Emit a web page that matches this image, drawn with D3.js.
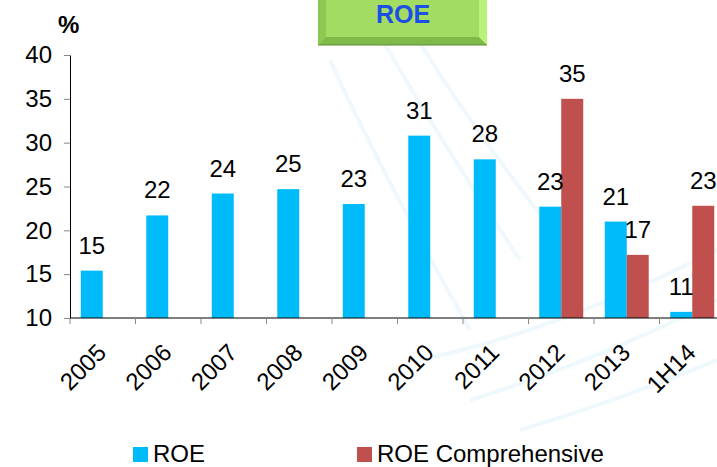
<!DOCTYPE html>
<html>
<head>
<meta charset="utf-8">
<script src="https://cdn.jsdelivr.net/npm/d3@7"></script>
<style>
  body { margin: 0; background: #fff; }
  svg { display: block; font-family: "Liberation Sans", Arial, sans-serif; }
</style>
</head>
<body>
<div id="chart"></div>
<script>
// data
const categories = ["2005", "2006", "2007", "2008", "2009", "2010", "2011", "2012", "2013", "1H14"];
const roe = [15.4, 21.7, 24.2, 24.7, 23.0, 30.8, 28.1, 22.7, 21.0, 10.7];
const roeComprehensive = [null, null, null, null, null, null, null, 35.0, 17.2, 22.8];
const yTicks = [10, 15, 20, 25, 30, 35, 40];
const seriesNames = ["ROE", "ROE Comprehensive"];
const colors = ["#00bbfa", "#c0504d"];

const W = 717, H = 467;
const svg = d3.select("#chart").append("svg")
  .attr("width", W)
  .attr("height", H);

// faint watermark swooshes in the background
const wm = svg.append("g").attr("fill", "none").attr("stroke", "#eef8fd").attr("stroke-width", 4);
[
  "M360,0 Q420,110 520,260", "M395,0 Q450,100 560,240", "M330,60 Q380,170 470,330",
  "M420,360 Q560,330 717,250", "M470,400 Q600,360 717,300", "M520,430 Q620,400 717,360"
].forEach(p => wm.append("path").attr("d", p));

const x = d3.scaleBand().domain(categories).range([70, 70 + 65.5 * categories.length]);
const inner = d3.scaleBand().domain([0, 1]).range([0, x.bandwidth()]).paddingOuter(0.49);
const y = d3.scaleLinear().domain([10, 40]).range([318, 55]);

const rows = categories.map((c, i) => ({ cat: c, vals: [roe[i], roeComprehensive[i]] }));

// bars
const groups = svg.append("g").selectAll("g")
  .data(rows).enter().append("g")
  .attr("transform", d => `translate(${x(d.cat)},0)`);

groups.selectAll("rect")
  .data(d => d.vals.map((v, k) => ({ v, k })).filter(e => e.v != null))
  .enter().append("rect")
  .attr("x", e => inner(e.k))
  .attr("width", inner.bandwidth())
  .attr("y", e => y(e.v))
  .attr("height", e => y(10) - y(e.v))
  .attr("fill", e => colors[e.k]);

groups.selectAll("text")
  .data(d => d.vals.map((v, k) => ({ v, k })).filter(e => e.v != null))
  .enter().append("text")
  .attr("x", e => inner(e.k) + inner.bandwidth() / 2)
  .attr("y", e => y(e.v) - 17)
  .attr("text-anchor", "middle")
  .attr("font-size", 24)
  .attr("fill", "#000")
  .text(e => Math.round(e.v));

// y axis
const yAxis = svg.append("g")
  .attr("transform", "translate(70,0)")
  .call(d3.axisLeft(y).tickValues(yTicks).tickSize(6).tickSizeOuter(0).tickPadding(12));
yAxis.select(".domain").attr("stroke", "#000");
yAxis.selectAll(".tick line").attr("stroke", "#888");
yAxis.selectAll(".tick text").attr("font-size", 24).attr("fill", "#000")
  .attr("font-family", "Liberation Sans, Arial, sans-serif");

// x axis with ticks between categories
const xAxis = svg.append("g")
  .attr("transform", "translate(0,318)");
xAxis.append("line").attr("x1", 70).attr("x2", W).attr("stroke", "#000");
xAxis.selectAll("line.sep")
  .data(categories).enter().append("line")
  .attr("class", "sep")
  .attr("x1", d => x(d)).attr("x2", d => x(d))
  .attr("y1", 0).attr("y2", 6)
  .attr("stroke", "#888");
xAxis.selectAll("text")
  .data(categories).enter().append("text")
  .attr("transform", d => `translate(${x(d) + x.bandwidth() / 2 + 5},36) rotate(-45)`)
  .attr("text-anchor", "end")
  .attr("font-size", 24)
  .attr("fill", "#000")
  .text(d => d);

// "%" unit
svg.append("text")
  .attr("x", 58).attr("y", 33)
  .attr("font-size", 24).attr("font-weight", "bold")
  .text("%");

// title box with bevel
const tb = svg.append("g").attr("transform", "translate(318,-8)");
const bw = 169, bh = 53, bev = 8;
tb.append("rect").attr("width", bw).attr("height", bh).attr("fill", "#96d45a");
tb.append("path").attr("d", `M0,${bh} L${bev},${bh - bev} L${bw - bev},${bh - bev} L${bw},${bh} Z`).attr("fill", "#7fb948");
tb.append("path").attr("d", `M${bw},0 L${bw - bev},${bev} L${bw - bev},${bh - bev} L${bw},${bh} Z`).attr("fill", "#b8f27a");
tb.append("path").attr("d", `M0,0 L${bev},${bev} L${bev},${bh - bev} L0,${bh} Z`).attr("fill", "#8cc852");
tb.append("rect").attr("x", bev).attr("y", bev).attr("width", bw - 2 * bev).attr("height", bh - 2 * bev).attr("fill", "#a2dc62");
tb.append("line").attr("x1", 0).attr("x2", bw).attr("y1", bh).attr("y2", bh).attr("stroke", "#5e8a35");
svg.append("text")
  .attr("x", 403).attr("y", 23)
  .attr("text-anchor", "middle")
  .attr("font-size", 25).attr("font-weight", "bold")
  .attr("fill", "#1d4fe6")
  .text("ROE");

// legend
const legendX = [133, 357];
const legend = svg.append("g").selectAll("g")
  .data(seriesNames).enter().append("g")
  .attr("transform", (d, i) => `translate(${legendX[i]},447)`);
legend.append("rect").attr("width", 15).attr("height", 15).attr("fill", (d, i) => colors[i]);
legend.append("text")
  .attr("x", 20).attr("y", 15)
  .attr("font-size", 24)
  .text(d => d);
</script>
</body>
</html>
